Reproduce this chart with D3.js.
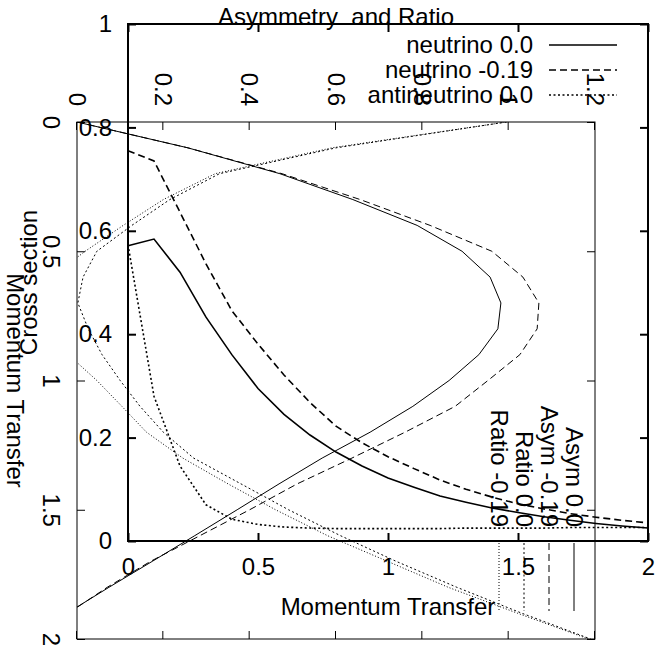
<!DOCTYPE html>
<html>
<head>
<meta charset="utf-8">
<script src="https://cdn.jsdelivr.net/npm/d3@7"></script>
<style>
body { margin: 0; background: #fff; }
text { font-family: "Liberation Sans", Arial, Helvetica, sans-serif; font-size: 24px; fill: #000; }
</style>
</head>
<body>
<svg id="chart"></svg>
<script>
// momentum transfer grid shared by every curve
var momentum = [0, 0.1, 0.2, 0.3, 0.4, 0.5, 0.6, 0.7, 0.8, 0.9, 1.0,
                1.1, 1.2, 1.3, 1.4, 1.5, 1.6, 1.7, 1.8, 1.9, 2.0];

// cross sections (upright plot)
var xsecNu     = [0.571, 0.584, 0.520, 0.433, 0.360, 0.295, 0.245, 0.205, 0.172, 0.145, 0.122,
                  0.104, 0.087, 0.075, 0.064, 0.055, 0.047, 0.040, 0.034, 0.029, 0.025];
var xsecNuM19  = [0.755, 0.735, 0.636, 0.536, 0.445, 0.381, 0.321, 0.268, 0.222, 0.190, 0.163,
                  0.140, 0.118, 0.100, 0.085, 0.072, 0.062, 0.053, 0.046, 0.040, 0.035];
var xsecAnti   = [0.573, 0.280, 0.145, 0.070, 0.042, 0.032, 0.027, 0.025, 0.024, 0.024, 0.024,
                  0.024, 0.024, 0.025, 0.025, 0.025, 0.025, 0.026, 0.026, 0.026, 0.026];

// asymmetry and ratio (plot drawn turned by 90 degrees)
var asym       = [0, 0.257, 0.470, 0.639, 0.788, 0.892, 0.957, 0.982, 0.975, 0.931, 0.862,
                  0.778, 0.679, 0.568, 0.468, 0.371, 0.273, 0.174, 0.074, -0.023, -0.120];
var asymM19    = [0, 0.257, 0.475, 0.656, 0.818, 0.961, 1.033, 1.070, 1.066, 1.026, 0.952,
                  0.876, 0.760, 0.637, 0.510, 0.400, 0.285, 0.170, 0.070, -0.020, -0.110];
var ratio      = [0.995, 0.600, 0.330, 0.215, 0.127, 0.046, 0.014, 0.002, 0.026, 0.058, 0.100,
                  0.146, 0.200, 0.270, 0.380, 0.490, 0.610, 0.740, 0.880, 1.030, 1.190];
var ratioM19   = [0.995, 0.590, 0.320, 0.200, 0.107, 0.019, -0.060, -0.090, -0.070, -0.020, 0.046,
                  0.104, 0.161, 0.245, 0.350, 0.460, 0.580, 0.720, 0.860, 1.020, 1.185];

var momTicks = [0, 0.5, 1, 1.5, 2];
var xsecTicks = [0, 0.2, 0.4, 0.6, 0.8, 1];
var ratioTicks = [0, 0.2, 0.4, 0.6, 0.8, 1, 1.2];

var xsecTitles = ["neutrino 0.0", "neutrino -0.19", "antineutrino 0.0"];
var ratioTitles = ["Asym 0.0", "Asym -0.19", "Ratio 0.0", "Ratio -0.19"];

var dashes = { solid: null, dashed: "7,4", dotted: "2,2.5", fine: "1,2" };

var svg = d3.select("#chart").attr("width", 662).attr("height", 652);
var fmt = d3.format("~g");

// draws a gnuplot style frame with inward ticks on all four sides
function frame(g, x, y, w, h, xTicks, yTicks, lw) {
    function clean(sel) {
        sel.select(".domain").remove();
        sel.selectAll(".tick line").attr("stroke-width", lw);
    }
    g.append("g").attr("transform", "translate(0," + h + ")")
        .call(d3.axisBottom(x).tickValues(xTicks).tickSize(-8).tickSizeOuter(0).tickPadding(17).tickFormat(fmt))
        .call(clean);
    g.append("g")
        .call(d3.axisLeft(y).tickValues(yTicks).tickSize(-8).tickSizeOuter(0).tickPadding(16).tickFormat(fmt))
        .call(clean);
    g.append("g")
        .call(d3.axisTop(x).tickValues(xTicks).tickSize(-8).tickSizeOuter(0).tickFormat(""))
        .call(clean);
    g.append("g").attr("transform", "translate(" + w + ",0)")
        .call(d3.axisRight(y).tickValues(yTicks).tickSize(-8).tickSizeOuter(0).tickFormat(""))
        .call(clean);
    g.append("rect").attr("width", w).attr("height", h)
        .attr("fill", "none").attr("stroke", "#000").attr("stroke-width", lw);
}

function curves(g, x, y, series, styles, lw) {
    var line = d3.line().x(function (d, i) { return x(momentum[i]); }).y(function (d) { return y(d); });
    series.forEach(function (s, i) {
        g.append("path").datum(s).attr("d", line)
            .attr("fill", "none").attr("stroke", "#000").attr("stroke-width", lw)
            .attr("stroke-dasharray", dashes[styles[i]]);
    });
}

function key(g, titles, styles, lw) {
    titles.forEach(function (t, i) {
        var yy = 21 + i * 25;
        g.append("text").attr("x", 405).attr("y", yy).attr("dy", "0.35em")
            .attr("text-anchor", "end").text(t);
        g.append("line").attr("x1", 421).attr("x2", 489).attr("y1", yy).attr("y2", yy)
            .attr("stroke", "#000").attr("stroke-width", lw)
            .attr("stroke-dasharray", dashes[styles[i]]);
    });
}

// ---- asymmetry / ratio plot, turned clockwise ----
var w2 = 517, h2 = 518;
var x2 = d3.scaleLinear().domain([0, 2]).range([0, w2]);
var y2 = d3.scaleLinear().domain([0, 1.2]).range([h2, 0]);
var g2 = svg.append("g").attr("transform", "translate(595,122) rotate(90)");

g2.append("clipPath").attr("id", "clip2")
    .append("rect").attr("width", w2).attr("height", h2);

frame(g2, x2, y2, w2, h2, momTicks, ratioTicks, 1);
var styles2 = ["solid", "dashed", "dotted", "fine"];
curves(g2.append("g").attr("clip-path", "url(#clip2)"), x2, y2,
    [asym, asymM19, ratio, ratioM19], styles2, 1);
key(g2, ratioTitles, styles2, 1);

g2.append("text").attr("x", w2 / 2).attr("y", h2 + 70)
    .attr("text-anchor", "middle").text("Momentum Transfer");
g2.append("text").attr("transform", "translate(-97," + (h2 / 2) + ") rotate(-90)")
    .attr("text-anchor", "middle").style("white-space", "pre").text("Asymmetry  and Ratio");

// ---- cross section plot ----
var w1 = 520, h1 = 517;
var x1 = d3.scaleLinear().domain([0, 2]).range([0, w1]);
var y1 = d3.scaleLinear().domain([0, 1]).range([h1, 0]);
var g1 = svg.append("g").attr("transform", "translate(128,24)");

frame(g1, x1, y1, w1, h1, momTicks, xsecTicks, 2);
var styles1 = ["solid", "dashed", "dotted"];
curves(g1, x1, y1, [xsecNu, xsecNuM19, xsecAnti], styles1, 1.6);
key(g1, xsecTitles, styles1, 1.6);

g1.append("text").attr("x", w1 / 2).attr("y", h1 + 74)
    .attr("text-anchor", "middle").text("Momentum Transfer");
g1.append("text").attr("transform", "translate(-91," + (h1 / 2) + ") rotate(-90)")
    .attr("text-anchor", "middle").text("Cross section");
</script>
</body>
</html>
